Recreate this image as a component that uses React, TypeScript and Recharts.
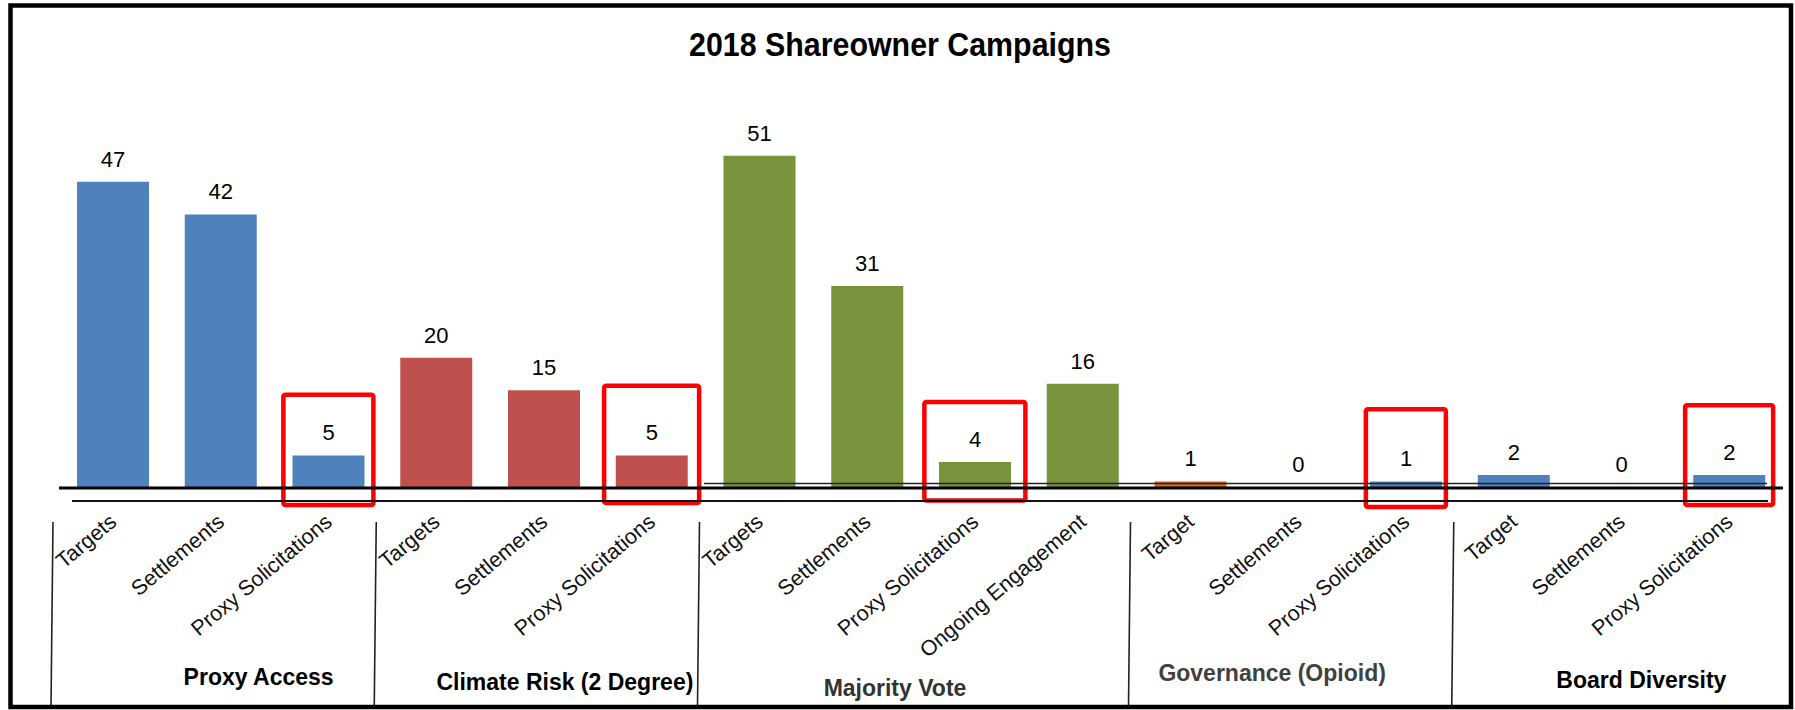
import {
  Bar,
  BarChart,
  Cell,
  LabelList,
  ReferenceArea,
  ReferenceLine,
  XAxis,
  YAxis,
} from 'recharts'

document.body.style.margin = '0'

const FONT = '"Liberation Sans", Arial, sans-serif'

// one entry per bar, left to right
const categoryKeys = [
  'pa-t', 'pa-s', 'pa-p',
  'cr-t', 'cr-s', 'cr-p',
  'mv-t', 'mv-s', 'mv-p', 'mv-o',
  'go-t', 'go-s', 'go-p',
  'bd-t', 'bd-s', 'bd-p',
]
const categoryLabels = [
  'Targets', 'Settlements', 'Proxy Solicitations',
  'Targets', 'Settlements', 'Proxy Solicitations',
  'Targets', 'Settlements', 'Proxy Solicitations', 'Ongoing Engagement',
  'Target', 'Settlements', 'Proxy Solicitations',
  'Target', 'Settlements', 'Proxy Solicitations',
]
const campaignCounts = [47, 42, 5, 20, 15, 5, 51, 31, 4, 16, 1, 0, 1, 2, 0, 2]

const groupNames = [
  'Proxy Access',
  'Climate Risk (2 Degree)',
  'Majority Vote',
  'Governance (Opioid)',
  'Board Diversity',
]
const groupFirstKeys = ['pa-t', 'cr-t', 'mv-t', 'go-t', 'bd-t']
const groupLastKeys = ['pa-p', 'cr-p', 'mv-o', 'go-p', 'bd-p']

// red boxes drawn around the proxy solicitation bars
const highlightKeys = ['pa-p', 'cr-p', 'mv-p', 'go-p', 'bd-p']
const highlightTops = [14.3, 15.7, 13.2, 12.1, 12.7]
const highlightBottoms = [-2.6, -2.3, -1.9, -2.9, -2.6]

// styling
const BLUE = '#4F81BD'
const RED = '#C0504D'
const GREEN = '#77933C'
const ORANGE = '#CC6A28'
const barColors = [
  BLUE, BLUE, BLUE,
  RED, RED, RED,
  GREEN, GREEN, GREEN, GREEN,
  ORANGE, BLUE, BLUE,
  BLUE, BLUE, BLUE,
]
const highlightWidths = [90, 95, 101, 80, 88]
const groupStyles = [
  { dx: 38, dy: 197, color: '#000' },
  { dx: 21, dy: 202, color: '#000' },
  { dx: -26, dy: 208, color: '#333' },
  { dx: -26, dy: 193, color: '#404040' },
  { dx: 20, dy: 200, color: '#000' },
]
const separators: { key: string; position: 'start' | 'end' }[] = [
  { key: 'pa-t', position: 'start' },
  { key: 'pa-p', position: 'end' },
  { key: 'cr-p', position: 'end' },
  { key: 'mv-o', position: 'end' },
  { key: 'go-p', position: 'end' },
]

const chartData = categoryKeys.map((key, i) => ({
  key,
  label: categoryLabels[i],
  value: campaignCounts[i],
}))

function CategoryTick({ x, y, payload }: any) {
  const label = categoryLabels[categoryKeys.indexOf(payload.value)]
  const ax = x + 5
  const ay = y + 36
  return (
    <text
      x={ax}
      y={ay}
      textAnchor="end"
      transform={`rotate(-40 ${ax} ${ay})`}
      fontSize={21.5}
      fontFamily={FONT}
      fill="#111"
    >
      {label}
    </text>
  )
}

export default function App() {
  return (
    <div style={{ position: 'relative', width: 1795, height: 710, background: '#fff' }}>
      <BarChart
        width={1795}
        height={710}
        data={chartData}
        margin={{ top: 32, right: 12, bottom: 22, left: 59 }}
        accessibilityLayer={false}
      >
        <YAxis hide domain={[0, 70]} allowDataOverflow />
        <XAxis
          dataKey="key"
          interval={0}
          height={200}
          tickLine={false}
          tickSize={0}
          tickMargin={0}
          axisLine={{ stroke: '#000', strokeWidth: 3 }}
          tick={<CategoryTick />}
        />
        <Bar
          dataKey="value"
          barSize={72}
          minPointSize={(v: number) => (v === 0 ? 1 : 0)}
          isAnimationActive={false}
        >
          {chartData.map((d, i) => (
            <Cell key={d.key} fill={barColors[i]} fillOpacity={d.value === 0 ? 0 : 1} />
          ))}
          <LabelList
            dataKey="value"
            position="top"
            offset={15}
            fill="#000"
            fontSize={22}
            fontFamily={FONT}
          />
        </Bar>
        <ReferenceLine
          y={0}
          ifOverflow="visible"
          shape={(p: any) => (
            <g>
              <line x1={p.x1 + 645} x2={p.x2 - 16} y1={p.y1 - 4.5} y2={p.y2 - 4.5} stroke="#222" strokeWidth={1.5} />
              <line x1={p.x1 + 13} x2={p.x2 - 15} y1={p.y1 + 13} y2={p.y2 + 13} stroke="#111" strokeWidth={2} />
            </g>
          )}
        />
        {separators.map((s) => (
          <ReferenceLine
            key={s.key + s.position}
            x={s.key}
            position={s.position}
            ifOverflow="visible"
            shape={(p: any) => {
              const bottom = Math.max(p.y1, p.y2)
              return (
                <line
                  x1={p.x1 - 6}
                  x2={p.x1 - 8}
                  y1={bottom + 34}
                  y2={bottom + 218}
                  stroke="#222"
                  strokeWidth={1.6}
                />
              )
            }}
          />
        ))}
        {groupNames.map((name, i) => (
          <ReferenceArea
            key={name}
            x1={groupFirstKeys[i]}
            x2={groupLastKeys[i]}
            ifOverflow="visible"
            shape={(p: any) => (
              <text
                x={p.x + p.width / 2 + groupStyles[i].dx}
                y={p.y + p.height + groupStyles[i].dy}
                textAnchor="middle"
                fontSize={23}
                fontWeight="bold"
                fontFamily={FONT}
                fill={groupStyles[i].color}
              >
                {name}
              </text>
            )}
          />
        ))}
        {highlightKeys.map((key, i) => (
          <ReferenceArea
            key={key}
            x1={key}
            x2={key}
            y1={highlightBottoms[i]}
            y2={highlightTops[i]}
            ifOverflow="visible"
            shape={(p: any) => {
              const cx = p.x + p.width / 2
              const w = highlightWidths[i]
              return (
                <rect
                  x={cx - w / 2}
                  y={p.y}
                  width={w}
                  height={p.height}
                  rx={2}
                  fill="none"
                  stroke="#FF0000"
                  strokeWidth={4.5}
                />
              )
            }}
          />
        ))}
      </BarChart>
      <svg
        width={1795}
        height={710}
        style={{ position: 'absolute', left: 0, top: 0, pointerEvents: 'none' }}
      >
        <rect x={10.5} y={5.5} width={1780.5} height={701.5} fill="none" stroke="#000" strokeWidth={4.5} />
        <text
          x={689}
          y={56}
          fontSize={33}
          fontWeight="bold"
          fontFamily={FONT}
          fill="#000"
          textLength={422}
          lengthAdjust="spacingAndGlyphs"
        >
          2018 Shareowner Campaigns
        </text>
      </svg>
    </div>
  )
}
